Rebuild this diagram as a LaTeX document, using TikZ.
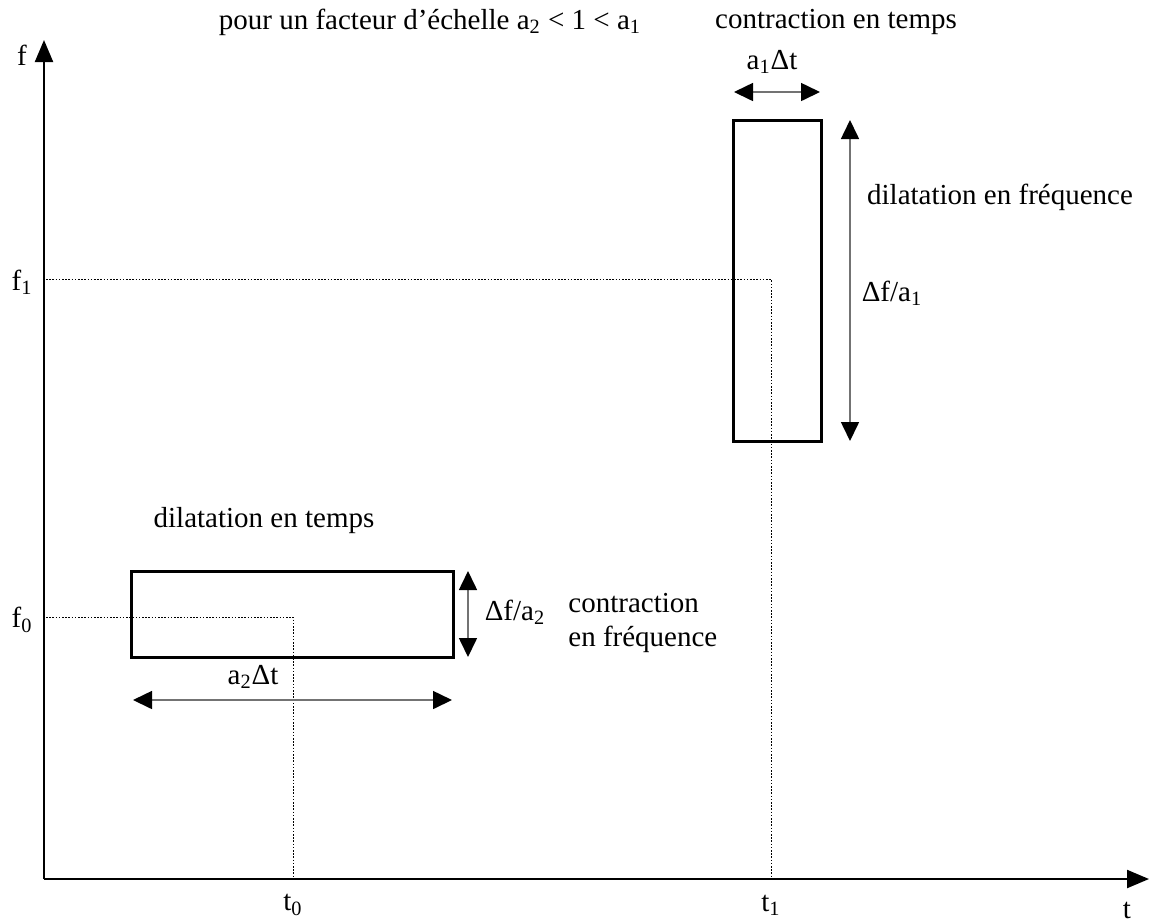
\documentclass[tikz,border=0pt]{standalone}
\usepackage{fontspec}
\setmainfont{Liberation Serif}
\usetikzlibrary{arrows.meta}
\begin{document}
\begin{tikzpicture}[x=0.5pt,y=-0.5pt,
  font=\fontsize{14.5}{17}\selectfont,
  boxnode/.style={draw, line width=1.5pt, inner sep=0pt},
  axis/.style={-{Triangle[length=11pt,width=9pt]}, line width=1.1pt},
  dimarrow/.style={{Triangle[length=9.5pt,width=9pt,color=black]}-{Triangle[length=9.5pt,width=9pt,color=black]}, draw=black!55, line width=0.8pt},
  guide/.style={line width=0.5pt, dash pattern=on 0.8pt off 0.8pt},
  lbl/.style={inner sep=0pt}]
\useasboundingbox (0,0) rectangle (1151,923);
% axes
\coordinate (O) at (44,879);
\coordinate (ytip) at (44,40);
\coordinate (xtip) at (1149,879);
\draw[axis] (O) -- (ytip);
\draw[axis] (O) -- (xtip);
% boxes
\node[boxnode, minimum width=44pt, minimum height=160.5pt] (B1) at (777,280.5) {};
\node[boxnode, minimum width=161pt, minimum height=43pt] (B0) at (292,614) {};
% guide lines
\coordinate (f1s) at (46,279);
\coordinate (c1) at (771,279);
\coordinate (t1e) at (771,878);
\coordinate (f0s) at (46,617);
\coordinate (c0) at (293,617);
\coordinate (t0e) at (293,878);
\draw[guide] (f1s) -- (c1) -- (t1e);
\draw[guide] (f0s) -- (c0) -- (t0e);
% dimension arrows
\coordinate (a1l) at (734,92);
\coordinate (a1r) at (820,92);
\coordinate (v1t) at (850,120);
\coordinate (v1b) at (850,441);
\coordinate (v0t) at (468,571);
\coordinate (v0b) at (468,657);
\coordinate (a2l) at (133,700);
\coordinate (a2r) at (452,700);
\draw[dimarrow] (a1l) -- (a1r);
\draw[dimarrow] (v1t) -- (v1b);
\draw[dimarrow] (v0t) -- (v0b);
\draw[dimarrow] (a2l) -- (a2r);
% labels
\node[lbl] (title) at (430,22) {pour un facteur d'échelle a\textsubscript{2} < 1 < a\textsubscript{1}};
\node[lbl] (ct) at (836,22) {contraction en temps};
\node[lbl] (a1dt) at (772,62) {a\textsubscript{1}Δt};
\node[lbl] (df) at (1000,197) {dilatation en fréquence};
\node[lbl] (dfa1) at (892,293) {Δf/a\textsubscript{1}};
\node[lbl] (dt) at (264,521) {dilatation en temps};
\node[lbl] (dfa2) at (515,612) {Δf/a\textsubscript{2}};
\node[lbl, anchor=west, align=left] (cf) at (568,623) {contraction\\en fréquence};
\node[lbl] (a2dt) at (253,677) {a\textsubscript{2}Δt};
\node[lbl] (fl) at (22,55) {f};
\node[lbl] (f1l) at (22,282) {f\textsubscript{1}};
\node[lbl] (f0l) at (22,620) {f\textsubscript{0}};
\node[lbl] (t0l) at (293,905) {t\textsubscript{0}};
\node[lbl] (t1l) at (771,905) {t\textsubscript{1}};
\node[lbl] (tl) at (1127,910) {t};
\end{tikzpicture}
\end{document}
